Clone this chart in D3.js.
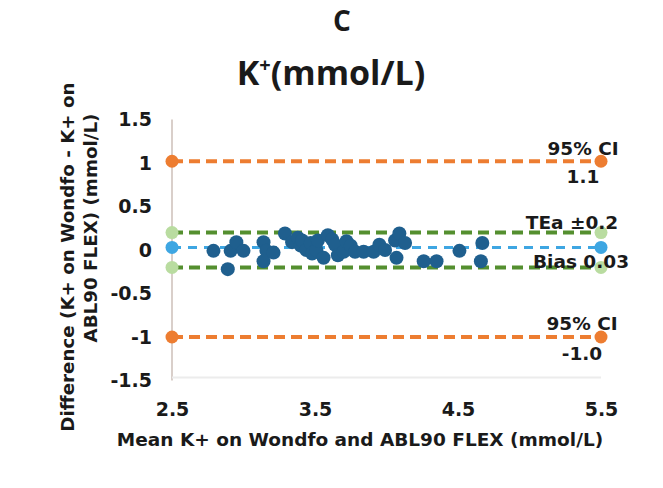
<!DOCTYPE html>
<html>
<head>
<meta charset="utf-8">
<script src="https://cdn.jsdelivr.net/npm/d3@7"></script>
<style>
  body { margin: 0; background: #fff; }
  text { font-family: "DejaVu Sans", sans-serif; font-weight: bold; fill: #1a1a1a; }
</style>
</head>
<body>
<svg id="chart"></svg>
<script>
const width = 663;
const height = 488;

// mean of the two methods (x) and difference (y)
const meanK = [2.79, 2.89, 2.91, 2.95, 3.00, 3.14, 3.16, 3.14, 3.21, 3.29,
  3.34, 3.38, 3.40, 3.41, 3.44, 3.47, 3.48, 3.51, 3.52, 3.56,
  3.59, 3.62, 3.64, 3.66, 3.70, 3.72, 3.75, 3.78, 3.84, 3.91,
  3.95, 3.99, 4.06, 4.07, 4.09, 4.13, 4.26, 4.35, 4.51, 4.67,
  4.66];
const diffK = [-0.01, -0.22, -0.01, 0.09, -0.01, 0.09, -0.01, -0.13, -0.03, 0.19,
  0.09, 0.14, 0.05, 0.11, 0.0, 0.08, -0.04, 0.0, 0.11, -0.09,
  0.17, 0.12, 0.06, -0.06, -0.02, 0.10, 0.05, -0.02, -0.02, -0.02,
  0.06, 0.0, 0.11, -0.09, 0.19, 0.08, -0.13, -0.13, -0.01, 0.08,
  -0.13];

const xTicks = [2.5, 3.5, 4.5, 5.5];
const yTicks = [1.5, 1, 0.5, 0, -0.5, -1, -1.5];

// reference lines
const refNames = ["ciUpper", "teaUpper", "bias", "teaLower", "ciLower"];
const refValues = [1.02, 0.2, 0.03, -0.2, -1.0];
const refKinds = ["ci", "tea", "bias", "tea", "ci"];

const labelTexts = [["95% CI", "1.1"], ["TEa \u00b10.2"], ["Bias 0.03"], ["95% CI", "-1.0"]];

const colors = {
  ci: "#ED7D31",
  tea: "#548f2f",
  bias: "#3ea6e2",
  point: "#1f5f8e",
  teaEnd: "#b9dca0"
};

const svg = d3.select("#chart").attr("width", width).attr("height", height);

const x = d3.scaleLinear().domain([2.5, 5.5]).range([172, 601]);
const y = d3.scaleLinear().domain([-1.5, 1.5]).range([380.5, 119.5]);

// titles
svg.append("text")
  .attr("x", 342).attr("y", 31)
  .attr("text-anchor", "middle")
  .style("font-family", "'Open Sans', sans-serif")
  .style("font-size", "28px")
  .text("C");

const title = svg.append("text")
  .attr("x", 331).attr("y", 85)
  .attr("text-anchor", "middle")
  .style("font-family", "'Open Sans', sans-serif")
  .style("font-size", "34px");
title.append("tspan").text("K");
title.append("tspan").attr("dy", -13).style("font-size", "20px").text("+");
title.append("tspan").attr("dy", 13).text("(mmol/L)");

// axes
svg.append("line")
  .attr("x1", x(2.5)).attr("x2", x(2.5))
  .attr("y1", y(1.5)).attr("y2", y(-1.5))
  .attr("stroke", "#cdbfb8").attr("stroke-width", 1.5);

svg.append("line")
  .attr("x1", x(2.5)).attr("x2", x(5.5))
  .attr("y1", y(-1.5) - 3).attr("y2", y(-1.5) - 3)
  .attr("stroke", "#ececec").attr("stroke-width", 2);

const yAxis = d3.axisLeft(y).tickValues(yTicks).tickSize(0).tickPadding(20)
  .tickFormat(d => d3.format("")(d).replace("\u2212", "-"));
svg.append("g")
  .attr("transform", `translate(${x(2.5)},0)`)
  .call(yAxis)
  .call(g => g.select(".domain").remove())
  .selectAll("text")
  .style("font-size", "19px")
  .style("font-family", "'DejaVu Sans', sans-serif");

const xAxis = d3.axisBottom(x).tickValues(xTicks).tickSize(0).tickPadding(0)
  .tickFormat(d3.format(".1f"));
svg.append("g")
  .attr("transform", `translate(0,${y(-1.5) + 22})`)
  .call(xAxis)
  .call(g => g.select(".domain").remove())
  .selectAll("text")
  .style("font-size", "19px")
  .style("font-family", "'DejaVu Sans', sans-serif");

svg.append("text")
  .attr("x", 360).attr("y", 446)
  .attr("text-anchor", "middle")
  .style("font-size", "18.5px")
  .text("Mean K+ on Wondfo and ABL90 FLEX (mmol/L)");

svg.append("text")
  .attr("transform", "translate(74,257) rotate(-90)")
  .attr("text-anchor", "middle")
  .style("font-size", "18.3px")
  .text("Difference (K+ on Wondfo - K+ on");
svg.append("text")
  .attr("transform", "translate(97,228) rotate(-90)")
  .attr("text-anchor", "middle")
  .style("font-size", "18.3px")
  .text("ABL90 FLEX) (mmol/L)");

// reference lines
const refs = refValues.map((v, i) => ({ name: refNames[i], value: v, kind: refKinds[i] }));

svg.selectAll(".ref")
  .data(refs)
  .enter()
  .append("line")
  .attr("class", "ref")
  .attr("x1", x(2.5)).attr("x2", x(5.5))
  .attr("y1", d => y(d.value)).attr("y2", d => y(d.value))
  .attr("stroke", d => colors[d.kind])
  .attr("stroke-width", d => d.kind === "bias" ? 3 : 4)
  .attr("stroke-dasharray", d => d.kind === "bias" ? "9,7" : "11,6");

// end markers
const ends = [];
refs.forEach(r => { ends.push({ ...r, xv: 2.5 }); ends.push({ ...r, xv: 5.5 }); });
svg.selectAll(".end")
  .data(ends)
  .enter()
  .append("circle")
  .attr("class", "end")
  .attr("cx", d => x(d.xv))
  .attr("cy", d => y(d.value))
  .attr("r", 6.5)
  .attr("fill", d => d.kind === "tea" ? colors.teaEnd : colors[d.kind]);

// data points
const points = meanK.map((m, i) => ({ mean: m, diff: diffK[i] }));
svg.selectAll(".pt")
  .data(points)
  .enter()
  .append("circle")
  .attr("class", "pt")
  .attr("cx", d => x(d.mean))
  .attr("cy", d => y(d.diff))
  .attr("r", 7)
  .attr("fill", colors.point);

// data labels
const labelPos = [
  { yv: refValues[0], dx: -18, dy: [-6, 22] },
  { yv: refValues[1], dx: -29, dy: [-4] },
  { yv: refValues[2], dx: -20, dy: [21] },
  { yv: refValues[4], dx: -19, dy: [-7, 23] }
];
labelTexts.forEach((lines, i) => {
  lines.forEach((t, j) => {
    svg.append("text")
      .attr("x", x(5.5) + labelPos[i].dx)
      .attr("y", y(labelPos[i].yv) + labelPos[i].dy[j])
      .attr("text-anchor", "middle")
      .style("font-size", "18.5px")
      .text(t);
  });
});
</script>
</body>
</html>
